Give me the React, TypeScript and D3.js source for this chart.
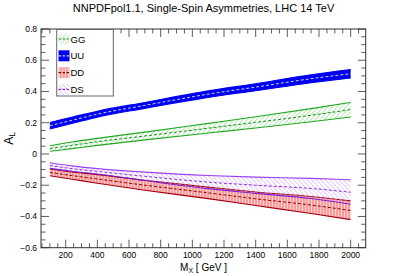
import React from "react";
import * as d3 from "d3";

const massX = [100, 250, 400, 700, 1100, 1400, 1750, 2000];

const uuLow = [0.16, 0.198, 0.236, 0.292, 0.362, 0.405, 0.456, 0.487];
const uuHigh = [0.202, 0.238, 0.274, 0.33, 0.404, 0.45, 0.507, 0.54];
const uuMid = [0.181, 0.218, 0.255, 0.311, 0.383, 0.428, 0.482, 0.514];

const ggLow = [0.017, 0.036, 0.055, 0.09, 0.134, 0.166, 0.206, 0.237];
const ggHigh = [0.053, 0.078, 0.1, 0.14, 0.196, 0.238, 0.29, 0.33];
const ggMid = [0.035, 0.057, 0.078, 0.115, 0.165, 0.202, 0.248, 0.284];

const dsHigh = [-0.056, -0.078, -0.094, -0.116, -0.138, -0.148, -0.156, -0.165];
const dsLow = [-0.092, -0.112, -0.128, -0.17, -0.222, -0.252, -0.285, -0.322];
const dsMid = [-0.074, -0.095, -0.111, -0.143, -0.18, -0.2, -0.221, -0.245];

const ddHigh = [-0.096, -0.117, -0.132, -0.168, -0.212, -0.243, -0.272, -0.3];
const ddLow = [-0.139, -0.163, -0.187, -0.232, -0.286, -0.33, -0.381, -0.42];
const ddMid = [-0.118, -0.14, -0.16, -0.2, -0.249, -0.287, -0.327, -0.362];

const xTickValues = [200, 400, 600, 800, 1000, 1200, 1400, 1600, 1800, 2000];
const yTickValues = [-0.6, -0.4, -0.2, 0, 0.2, 0.4, 0.6, 0.8];
const legendLabels = ["GG", "UU", "DD", "DS"];

const W = 407;
const H = 276;
const L = 41;
const R = 365.7;
const T = 29;
const B = 247.7;

export default function App() {
  const x = d3.scaleLinear().domain([44, 2095]).range([L, R]);
  const y = d3.scaleLinear().domain([-0.6, 0.8]).range([B, T]);

  const area = (lo: number[], hi: number[]) =>
    d3
      .area<number>()
      .x((_, i) => x(massX[i]))
      .y0((_, i) => y(lo[i]))
      .y1((_, i) => y(hi[i]))
      .curve(d3.curveMonotoneX)(massX) as string;
  const line = (v: number[]) =>
    d3
      .line<number>()
      .x((_, i) => x(massX[i]))
      .y((_, i) => y(v[i]))
      .curve(d3.curveMonotoneX)(massX) as string;

  const minorX = d3.range(50, 2096, 50);
  const minorY = d3.range(-0.6, 0.8001, 0.05);

  const font = "Liberation Sans, Arial, Helvetica, sans-serif";
  const axisColor = "#333";

  const series = [
    { key: "UU", lo: uuLow, hi: uuHigh, mid: uuMid, fill: "#0000f0", hiEdge: "#0000f0", loEdge: "#0000f0", midColor: "#c8d0ff" },
    { key: "GG", lo: ggLow, hi: ggHigh, mid: ggMid, fill: "url(#hatchGG)", hiEdge: "#22a622", loEdge: "#22a622", midColor: "#1a8a1a" },
    { key: "DD", lo: ddLow, hi: ddHigh, mid: ddMid, fill: "url(#hatchDD)", hiEdge: "#a00010", loEdge: "#a00010", midColor: "#8a0000" },
    { key: "DS", lo: dsLow, hi: dsHigh, mid: dsMid, fill: "url(#hatchDS)", hiEdge: "#9a40f0", loEdge: "#7a20d0", midColor: "#8a2be2" },
  ];

  const legendStyle: Record<string, { fill: string; mid: string }> = {
    GG: { fill: "url(#hatchGG)", mid: "#1a8a1a" },
    UU: { fill: "#0000f0", mid: "#c8d0ff" },
    DD: { fill: "url(#hatchDD)", mid: "#8a0000" },
    DS: { fill: "url(#hatchDS)", mid: "#8a2be2" },
  };

  return (
    <div style={{ position: "fixed", left: 0, top: 0 }}>
      <svg width={W} height={H} style={{ display: "block", background: "#fff" }}>
        <defs>
          <pattern id="hatchGG" width="3.2" height="3.2" patternUnits="userSpaceOnUse" patternTransform="rotate(45)">
            <rect width="3.2" height="3.2" fill="#fff" />
            <line x1="0" y1="0" x2="0" y2="3.2" stroke="#7be07b" strokeWidth="1.1" />
          </pattern>
          <pattern id="hatchDS" width="3.2" height="3.2" patternUnits="userSpaceOnUse" patternTransform="rotate(-45)">
            <rect width="3.2" height="3.2" fill="#fff" fillOpacity="0" />
            <line x1="0" y1="0" x2="0" y2="3.2" stroke="#d49cff" strokeWidth="1.1" />
          </pattern>
          <pattern id="hatchDD" width="3" height="3" patternUnits="userSpaceOnUse">
            <rect width="3" height="3" fill="#ffd4d4" />
            <line x1="1" y1="0" x2="1" y2="3" stroke="#ff6a6a" strokeWidth="1.1" />
          </pattern>
          <clipPath id="plotClip">
            <rect x={L} y={T} width={R - L} height={B - T} />
          </clipPath>
        </defs>

        <text x={203.5} y={12} textAnchor="middle" fontFamily={font} fontSize={11} fill="#000">
          NNPDFpol1.1, Single-Spin Asymmetries, LHC 14 TeV
        </text>

        <g clipPath="url(#plotClip)">
          {series.map((s) => (
            <g key={s.key}>
              <path d={area(s.lo, s.hi)} fill={s.fill} />
              <path d={line(s.hi)} fill="none" stroke={s.hiEdge} strokeWidth={1.1} />
              <path d={line(s.lo)} fill="none" stroke={s.loEdge} strokeWidth={1.1} />
              <path d={line(s.mid)} fill="none" stroke={s.midColor} strokeWidth={1} strokeDasharray="3,2" />
            </g>
          ))}
        </g>

        {/* frame */}
        <rect x={L} y={T} width={R - L} height={B - T} fill="none" stroke={axisColor} strokeWidth={1} />

        {/* x ticks */}
        {minorX.map((v) => {
          const major = xTickValues.includes(v);
          const len = major ? 8 : 4.5;
          return (
            <g key={"x" + v} stroke={axisColor} strokeWidth={0.8}>
              <line x1={x(v)} x2={x(v)} y1={B} y2={B - len} />
              <line x1={x(v)} x2={x(v)} y1={T} y2={T + len} />
            </g>
          );
        })}
        {xTickValues.map((v) => (
          <text key={"xl" + v} x={x(v)} y={257.5} textAnchor="middle" fontFamily={font} fontSize={8.5} fill="#000">
            {v}
          </text>
        ))}

        {/* y ticks */}
        {minorY.map((v, i) => {
          const major = i % 4 === 0;
          const len = major ? 8 : 4.5;
          return (
            <g key={"y" + i} stroke={axisColor} strokeWidth={0.8}>
              <line x1={L} x2={L + len} y1={y(v)} y2={y(v)} />
              <line x1={R} x2={R - len} y1={y(v)} y2={y(v)} />
            </g>
          );
        })}
        {yTickValues.map((v) => (
          <text key={"yl" + v} x={37} y={y(v) + 3} textAnchor="end" fontFamily={font} fontSize={8.5} fill="#000">
            {v === 0 ? "0" : d3.format(".1f")(v)}
          </text>
        ))}

        {/* axis labels */}
        <text x={203.5} y={271} textAnchor="middle" fontFamily={font} fontSize={10} fill="#000">
          M<tspan fontSize={7} dy={2}>X</tspan>
          <tspan dy={-2}> [ GeV ]</tspan>
        </text>
        <text transform={`translate(13, ${(T + B) / 2}) rotate(-90)`} textAnchor="middle" fontFamily={font} fontSize={12} fill="#000">
          A<tspan fontSize={8.5} dy={2}>L</tspan>
        </text>

        {/* legend */}
        <rect x={56.7} y={29.5} width={56.6} height={66.5} fill="#fff" stroke="#666" strokeWidth={1} />
        {legendLabels.map((k, i) => {
          const cy = 39 + i * 16.8;
          const st = legendStyle[k];
          return (
            <g key={"lg" + k}>
              <rect x={58.5} y={cy - 5.5} width={11} height={11} fill={st.fill} />
              <line x1={58.5} x2={69.5} y1={cy} y2={cy} stroke={st.mid} strokeWidth={1.2} strokeDasharray="2.5,1.5" />
              <text x={70.5} y={cy + 3.5} fontFamily={font} fontSize={9.5} fill="#000">
                {k}
              </text>
            </g>
          );
        })}
      </svg>
    </div>
  );
}
